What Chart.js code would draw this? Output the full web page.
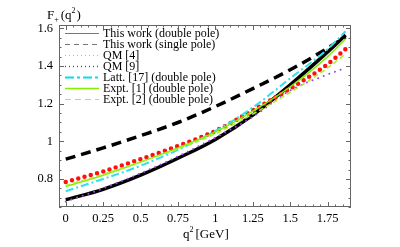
<!DOCTYPE html>
<html>
<head>
<meta charset="utf-8">
<script src="https://cdn.jsdelivr.net/npm/chart.js@4.4.0/dist/chart.umd.min.js"></script>
<style>
  html, body { margin: 0; padding: 0; background: #fff; }
  #chart { display: block; }
</style>
</head>
<body>
<canvas id="chart" width="400" height="247"></canvas>
<script>
// q^2 sample points [GeV]
const qValues = [0, 0.25, 0.5, 0.75, 1, 1.25, 1.5, 1.75, 1.87];

// F+(q^2) curves
const thisWorkDouble = [0.69, 0.745, 0.82, 0.91, 1.01, 1.14, 1.3, 1.475, 1.565];
const thisWorkSingle = [0.905, 0.965, 1.03, 1.1, 1.185, 1.28, 1.38, 1.495, 1.555];
const qm4 = [0.784, 0.84, 0.905, 0.975, 1.055, 1.165, 1.28, 1.41, 1.49];
const qm9 = [0.68, 0.75, 0.83, 0.92, 1.02, 1.13, 1.27, 1.355, 1.39];
const latt17 = [0.735, 0.8, 0.87, 0.955, 1.055, 1.18, 1.335, 1.49, 1.585];
const expt1 = [0.76, 0.82, 0.89, 0.965, 1.05, 1.16, 1.29, 1.45, 1.545];
const expt2 = [0.765, 0.825, 0.89, 0.96, 1.04, 1.145, 1.26, 1.39, 1.465];

const legendLabels = [
  'This work (double pole)',
  'This work (single pole)',
  'QM [4]',
  'QM [9]',
  'Latt. [17] (double pole)',
  'Expt. [1] (double pole)',
  'Expt. [2] (double pole)'
];

const xTicks = [0, 0.25, 0.5, 0.75, 1, 1.25, 1.5, 1.75];
const yTicks = [0.8, 1, 1.2, 1.4, 1.6];

const serif = '"Liberation Serif", "DejaVu Serif", serif';

const toPoints = vals => vals.map((v, i) => ({ x: qValues[i], y: v }));

// legend sample styles (thin, like the original key)
const legendStyles = [
  { color: '#777', width: 1, dash: [] },
  { color: '#777', width: 1, dash: [5, 4] },
  { color: '#f49aa6', width: 1, dash: [1, 3] },
  { color: '#8a2be2', width: 1.5, dash: [1, 3] },
  { color: '#00e0e8', width: 2, dash: [9, 3, 3, 3] },
  { color: '#80f000', width: 1.5, dash: [] },
  { color: '#a8f030', width: 1, dash: [6, 4] }
];

const framePlugin = {
  id: 'frame',
  afterDraw(chart) {
    const { ctx, chartArea: a, scales } = chart;
    ctx.save();
    ctx.strokeStyle = '#666';
    ctx.lineWidth = 1;
    ctx.strokeRect(a.left + 0.5, a.top + 0.5, a.right - a.left - 1, a.bottom - a.top - 1);

    // ticks on all four sides, pointing inwards
    ctx.beginPath();
    for (let v = 0; v <= 1.9001; v += 0.05) {
      const x = Math.round(scales.x.getPixelForValue(v)) + 0.5;
      const major = Math.abs(v / 0.25 - Math.round(v / 0.25)) < 1e-6;
      const len = major ? 5 : 2.5;
      ctx.moveTo(x, a.bottom); ctx.lineTo(x, a.bottom - len);
      ctx.moveTo(x, a.top); ctx.lineTo(x, a.top + len);
    }
    for (let v = 0.65; v <= 1.6001; v += 0.05) {
      const y = Math.round(scales.y.getPixelForValue(v)) + 0.5;
      const major = Math.abs(v / 0.2 - Math.round(v / 0.2)) < 1e-6;
      const len = major ? 5 : 2.5;
      ctx.moveTo(a.left, y); ctx.lineTo(a.left + len, y);
      ctx.moveTo(a.right, y); ctx.lineTo(a.right - len, y);
    }
    ctx.stroke();

    // axis titles
    ctx.fillStyle = '#000';
    ctx.textBaseline = 'alphabetic';
    ctx.textAlign = 'left';
    ctx.font = '13px ' + serif;
    let x = 47;
    ctx.fillText('F', x, 19); x += ctx.measureText('F').width;
    ctx.font = '8px ' + serif;
    ctx.fillText('+', x, 22); x += ctx.measureText('+').width + 2;
    ctx.font = '13px ' + serif;
    ctx.fillText('(q', x, 19); x += ctx.measureText('(q').width;
    ctx.font = '8px ' + serif;
    ctx.fillText('2', x, 13); x += ctx.measureText('2').width + 1;
    ctx.font = '13px ' + serif;
    ctx.fillText(')', x, 19);

    x = 183;
    ctx.fillText('q', x, 238); x += ctx.measureText('q').width;
    ctx.font = '8px ' + serif;
    ctx.fillText('2', x, 232); x += ctx.measureText('2').width + 2;
    ctx.font = '13px ' + serif;
    ctx.fillText('[GeV]', x, 238);
    ctx.restore();
  }
};

const legendPlugin = {
  id: 'keyBox',
  afterDatasetsDraw(chart) {
    const { ctx } = chart;
    ctx.save();
    ctx.font = '12px ' + serif;
    ctx.textBaseline = 'middle';
    ctx.fillStyle = '#000';
    legendLabels.forEach((label, i) => {
      const y = 33 + i * 11;
      const s = legendStyles[i];
      ctx.beginPath();
      ctx.strokeStyle = s.color;
      ctx.lineWidth = s.width;
      ctx.setLineDash(s.dash);
      ctx.moveTo(65, y + 0.5);
      ctx.lineTo(99, y + 0.5);
      ctx.stroke();
      ctx.setLineDash([]);
      ctx.fillText(label, 103, y + 1);
    });
    ctx.restore();
  }
};

const common = { fill: false, pointRadius: 0, cubicInterpolationMode: 'monotone' };

new Chart(document.getElementById('chart'), {
  type: 'line',
  data: {
    datasets: [
      { ...common, label: legendLabels[6], data: toPoints(expt2), borderColor: '#a8f030', borderWidth: 1.5, borderDash: [5, 3] },
      { ...common, label: legendLabels[5], data: toPoints(expt1), borderColor: '#80f000', borderWidth: 1.5 },
      { ...common, label: legendLabels[4], data: toPoints(latt17), borderColor: '#30e0f0', borderWidth: 2, borderDash: [8, 3, 2, 3] },
      { ...common, label: legendLabels[3], data: toPoints(qm9), borderColor: '#a040f0', borderWidth: 2, borderDash: [0, 6], borderCapStyle: 'round' },
      { ...common, label: legendLabels[2], data: toPoints(qm4), borderColor: '#ff1010', borderWidth: 4.5, borderDash: [0, 6.5], borderCapStyle: 'round' },
      { ...common, label: legendLabels[1], data: toPoints(thisWorkSingle), borderColor: '#000', borderWidth: 3.5, borderDash: [10, 6] },
      { ...common, label: legendLabels[0], data: toPoints(thisWorkDouble), borderColor: '#000', borderWidth: 3.5 }
    ]
  },
  options: {
    responsive: false,
    animation: false,
    layout: { padding: { top: 25, right: 49, left: 0, bottom: 0 } },
    plugins: { legend: { display: false }, tooltip: { enabled: false } },
    scales: {
      x: {
        type: 'linear',
        min: -0.045,
        max: 1.906,
        afterFit: s => { s.height = 40; },
        afterBuildTicks: s => { s.ticks = xTicks.map(v => ({ value: v })); },
        grid: { display: false, drawTicks: false },
        border: { display: false },
        ticks: {
          padding: 4,
          color: '#000',
          font: { family: serif, size: 12.5 },
          maxRotation: 0,
          autoSkip: false,
          callback: v => String(+v.toFixed(2))
        }
      },
      y: {
        type: 'linear',
        min: 0.651,
        max: 1.618,
        afterFit: s => { s.width = 59; },
        afterBuildTicks: s => { s.ticks = yTicks.map(v => ({ value: v })); },
        grid: { display: false, drawTicks: false },
        border: { display: false },
        ticks: {
          padding: 6,
          color: '#000',
          font: { family: serif, size: 12.5 },
          autoSkip: false,
          callback: v => String(+v.toFixed(2))
        }
      }
    }
  },
  plugins: [framePlugin, legendPlugin]
});
</script>
</body>
</html>
